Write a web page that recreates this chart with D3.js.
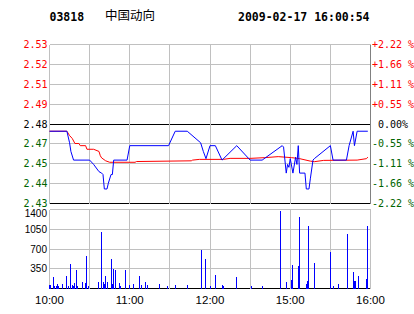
<!DOCTYPE html>
<html>
<head>
<meta charset="utf-8">
<script src="https://cdn.jsdelivr.net/npm/d3@7"></script>
<style>
  body { margin: 0; background: #fff; }
  svg { display: block; }
  .mono { font-family: "DejaVu Sans Mono", monospace; }
  .sans { font-family: "Liberation Sans", Arial, sans-serif; }
</style>
</head>
<body>
<svg id="chart"></svg>
<script>
const W = 414, H = 314;

// header
const stockCode = "03818";
const stockName = "中国动向";
const stamp = "2009-02-17 16:00:54";
const prevClose = 2.48;

// price axis
const pctTicks = [2.22, 1.665, 1.11, 0.555, 0, -0.555, -1.11, -1.665, -2.22];
const priceLabels = ["2.53", "2.52", "2.51", "2.49", "2.48", "2.47", "2.45", "2.44", "2.43"];
const pctLabels = ["+2.22 %", "+1.66 %", "+1.11 %", "+0.55 %", " 0.00%", "-0.55 %", "-1.11 %", "-1.66 %", "-2.22 %"];

// time axis (minutes of trading, lunch break removed)
const gridMinutes = [30, 60, 90, 120, 150, 180, 210];
const timeTickMinutes = [0, 60, 120, 180, 240];
const timeLabels = ["10:00", "11:00", "12:00", "15:00", "16:00"];

// volume axis
const volTicks = [350, 700, 1050, 1400];

// last price
const priceMinutes = [0, 13, 15, 16, 18, 30, 33, 37, 39, 40, 41, 43, 44, 46, 47, 48, 58, 60, 89, 94, 103, 113, 115, 117, 120, 124, 129, 140, 150, 159, 174, 175, 177, 178, 179, 180, 182, 184, 185, 186, 187, 191, 192, 194, 195, 197, 198, 210, 212, 222, 224, 227, 228, 230, 238];
const priceValues = [2.475, 2.475, 2.467, 2.461, 2.455, 2.455, 2.452, 2.447, 2.446, 2.445, 2.435, 2.435, 2.439, 2.445, 2.445, 2.455, 2.455, 2.465, 2.465, 2.475, 2.475, 2.467, 2.461, 2.456, 2.465, 2.465, 2.455, 2.465, 2.455, 2.455, 2.465, 2.464, 2.446, 2.452, 2.450, 2.456, 2.446, 2.457, 2.452, 2.465, 2.446, 2.446, 2.435, 2.435, 2.442, 2.455, 2.456, 2.465, 2.455, 2.455, 2.465, 2.475, 2.465, 2.475, 2.475];

// average price
const avgMinutes = [0, 13, 15, 17, 19, 22, 23, 27, 28, 33, 37, 38, 39, 42, 45, 64, 65, 106, 107, 112, 130, 135, 150, 161, 171, 181, 187, 195, 198, 205, 230, 237, 238];
const avgValues = [2.475, 2.475, 2.472, 2.470, 2.4665, 2.4665, 2.465, 2.465, 2.4625, 2.4625, 2.461, 2.458, 2.4565, 2.4545, 2.4535, 2.4535, 2.454, 2.4545, 2.455, 2.4555, 2.4555, 2.4562, 2.4562, 2.4567, 2.4574, 2.4567, 2.456, 2.4543, 2.4539, 2.4548, 2.455, 2.456, 2.4571];

// volume
const volMinutes = [0, 1, 3, 4, 5, 6, 7, 10, 13, 14, 16, 17, 18, 19, 20, 21, 25, 27, 28, 29, 37, 39, 40, 41, 42, 43, 46, 47, 48, 49, 52, 53, 57, 60, 63, 67, 69, 72, 73, 82, 88, 94, 103, 114, 117, 120, 124, 129, 130, 140, 151, 159, 173, 177, 181, 182, 186, 187, 192, 193, 194, 198, 210, 212, 216, 223, 227, 228, 229, 231, 237, 238];
const volValues = [58, 58, 195, 40, 40, 76, 40, 76, 218, 40, 431, 58, 40, 93, 324, 40, 112, 93, 572, 40, 112, 997, 112, 76, 218, 112, 519, 76, 342, 324, 93, 40, 324, 58, 76, 218, 58, 112, 58, 76, 40, 58, 58, 679, 519, 40, 236, 58, 40, 200, 40, 40, 1370, 112, 147, 413, 395, 1263, 76, 129, 1104, 448, 643, 40, 76, 962, 288, 129, 129, 218, 177, 1104];

function init() {
  const svg = d3.select("#chart").attr("width", W).attr("height", H);

  const x = d3.scaleLinear().domain([0, 240]).range([49.5, 370.5]);
  const lo = prevClose * (1 - 2.22 / 100), hi = prevClose * (1 + 2.22 / 100);
  const y = d3.scaleLinear().domain([lo, hi]).range([203.5, 44.5]);
  const yv = d3.scaleLinear().domain([0, 1400]).range([288.5, 209.5]);

  // header
  svg.append("text").attr("class", "mono").attr("x", 49.5).attr("y", 20.5)
    .style("font-size", "11.5px").style("font-weight", "bold").text(stockCode);
  svg.append("text").attr("x", 105).attr("y", 19.5)
    .style("font-family", "'Noto Sans CJK SC', sans-serif").style("font-size", "12.5px").text(stockName);
  svg.append("text").attr("class", "mono").attr("x", 238).attr("y", 20.5)
    .style("font-size", "11.5px").style("font-weight", "bold").text(stamp);

  const grid = svg.append("g").attr("shape-rendering", "crispEdges");

  // price panel grid
  grid.selectAll("line.hp").data(pctTicks).join("line").attr("class", "hp")
    .attr("x1", x(0)).attr("x2", x(240))
    .attr("y1", (d) => y(prevClose * (1 + d / 100))).attr("y2", (d) => y(prevClose * (1 + d / 100)))
    .attr("stroke", (d, i) => (d === 0 || i === pctTicks.length - 1) ? "#000" : "#c0c0c0");
  grid.selectAll("line.vp").data(gridMinutes).join("line").attr("class", "vp")
    .attr("x1", (d) => x(d)).attr("x2", (d) => x(d))
    .attr("y1", y(hi)).attr("y2", y(lo)).attr("stroke", "#c0c0c0");
  grid.append("line").attr("x1", x(0)).attr("x2", x(0)).attr("y1", y(hi)).attr("y2", y(lo)).attr("stroke", "#c0c0c0");
  grid.append("line").attr("x1", x(240)).attr("x2", x(240)).attr("y1", y(hi)).attr("y2", y(lo)).attr("stroke", "#808080");

  // volume panel grid
  grid.selectAll("line.hv").data([0].concat(volTicks)).join("line").attr("class", "hv")
    .attr("x1", x(0)).attr("x2", x(240))
    .attr("y1", (d) => yv(d)).attr("y2", (d) => yv(d))
    .attr("stroke", (d) => d === 0 ? "#000" : "#c0c0c0");
  grid.selectAll("line.vv").data([0].concat(gridMinutes, [240])).join("line").attr("class", "vv")
    .attr("x1", (d) => x(d)).attr("x2", (d) => x(d))
    .attr("y1", yv(1400)).attr("y2", yv(0)).attr("stroke", "#c0c0c0");

  // price labels
  const colorFor = (d) => d > 0 ? "#ff0000" : (d < 0 ? "#006400" : "#000");
  svg.selectAll("text.pl").data(pctTicks).join("text").attr("class", "pl mono")
    .attr("x", 47.5).attr("y", (d) => y(prevClose * (1 + d / 100))).attr("dy", "0.36em")
    .attr("text-anchor", "end").style("font-size", "10px")
    .attr("fill", colorFor).text((d, i) => priceLabels[i]);
  svg.selectAll("text.pr").data(pctTicks).join("text").attr("class", "pr mono")
    .attr("x", 372).attr("y", (d) => y(prevClose * (1 + d / 100))).attr("dy", "0.36em")
    .style("font-size", "10px").style("white-space", "pre")
    .attr("fill", colorFor).text((d, i) => pctLabels[i]);

  // volume labels
  svg.selectAll("text.vl").data(volTicks).join("text").attr("class", "vl sans")
    .attr("x", 47).attr("y", (d) => yv(d) + (d === 1400 ? 4 : 0)).attr("dy", "0.36em")
    .attr("text-anchor", "end").style("font-size", "10px").text((d) => d);

  // time labels
  svg.selectAll("text.tl").data(timeTickMinutes).join("text").attr("class", "tl sans")
    .attr("x", (d) => x(d)).attr("y", 303.5).attr("text-anchor", "middle")
    .style("font-size", "11.5px").text((d, i) => timeLabels[i]);

  // volume bars
  svg.append("g").attr("shape-rendering", "crispEdges")
    .selectAll("rect").data(volMinutes).join("rect")
    .attr("x", (d) => Math.round(x(d) - 0.5)).attr("width", 1)
    .attr("y", (d, i) => yv(volValues[i])).attr("height", (d, i) => yv(0) - yv(volValues[i]))
    .attr("fill", "#0000ff");

  // average line
  const avgLine = d3.line().x((d) => x(d[0])).y((d) => y(d[1]));
  svg.append("path").datum(avgMinutes.map((m, i) => [m, avgValues[i]]))
    .attr("fill", "none").attr("stroke", "#ff0000").attr("stroke-width", 1)
    .attr("d", avgLine);

  // price line
  svg.append("path").datum(priceMinutes.map((m, i) => [m, priceValues[i]]))
    .attr("fill", "none").attr("stroke", "#0000ff").attr("stroke-width", 1)
    .attr("d", avgLine);
}

init();
</script>
</body>
</html>
